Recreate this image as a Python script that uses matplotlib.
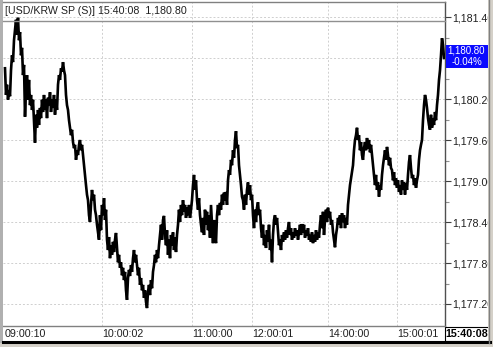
import matplotlib
matplotlib.use("Agg")
import matplotlib.pyplot as plt
from matplotlib.patches import Rectangle

# ---- data ----
title_text = "[USD/KRW SP (S)] 15:40:08  1,180.80"
last_price_label = "1,180.80"
last_change_label = "-0.04%"
last_time_label = "15:40:08"

prices = [
    1180.65, 1180.26, 1180.41, 1180.19, 1180.33, 1180.24, 1180.62, 1180.84, 1180.74, 1181.06,
    1181.21, 1181.36, 1181.14, 1181.39, 1181.06, 1181.18, 1180.84, 1180.95, 1180.55, 1180.70,
    1179.94, 1180.33, 1180.55, 1180.19, 1180.48, 1180.11, 1180.26, 1180.04, 1180.19, 1179.89,
    1179.56, 1179.97, 1179.78, 1180.04, 1179.82, 1180.07, 1179.92, 1180.19, 1180.01, 1180.26,
    1180.04, 1180.19, 1179.92, 1180.22, 1180.11, 1180.30, 1180.01, 1180.19, 1180.07, 1180.26,
    1179.97, 1180.19, 1180.04, 1180.41, 1180.55, 1180.48, 1180.65, 1180.60, 1180.74, 1180.62,
    1180.55, 1180.26, 1180.11, 1180.04, 1179.89, 1179.78, 1179.67, 1179.75, 1179.57, 1179.48,
    1179.53, 1179.31, 1179.45, 1179.38, 1179.53, 1179.60, 1179.45, 1179.53, 1179.38, 1179.23,
    1179.09, 1178.94, 1178.80, 1178.72, 1178.50, 1178.40, 1178.65, 1178.87, 1178.72, 1178.80,
    1178.58, 1178.50, 1178.36, 1178.25, 1178.14, 1178.50, 1178.28, 1178.65, 1178.50, 1178.75,
    1178.43, 1178.58, 1178.14, 1177.99, 1178.18, 1177.87, 1178.06, 1177.92, 1178.11, 1177.96,
    1178.14, 1178.24, 1178.02, 1177.81, 1177.92, 1177.73, 1177.81, 1177.62, 1177.73, 1177.55,
    1177.67, 1177.40, 1177.26, 1177.58, 1177.70, 1177.61, 1177.77, 1177.67, 1177.87, 1177.99,
    1177.81, 1177.92, 1177.77, 1177.62, 1177.73, 1177.48, 1177.58, 1177.40, 1177.48, 1177.29,
    1177.40, 1177.23, 1177.14, 1177.38, 1177.48, 1177.33, 1177.55, 1177.43, 1177.67, 1177.77,
    1177.92, 1177.81, 1177.99, 1177.87, 1178.06, 1178.21, 1178.36, 1178.14, 1178.43, 1178.49,
    1178.21, 1178.06, 1178.28, 1177.92, 1178.14, 1177.87, 1178.21, 1178.06, 1178.25, 1177.99,
    1178.17, 1177.96, 1178.21, 1178.36, 1178.58, 1178.40, 1178.65, 1178.50, 1178.72, 1178.55,
    1178.65, 1178.46, 1178.61, 1178.50, 1178.65, 1178.46, 1178.58, 1178.72, 1178.94, 1179.09,
    1178.87, 1179.01, 1178.72, 1178.58, 1178.75, 1178.50, 1178.36, 1178.25, 1178.46, 1178.21,
    1178.58, 1178.36, 1178.55, 1178.28, 1178.50, 1178.17, 1178.65, 1178.36, 1178.09, 1178.43,
    1178.21, 1178.09, 1178.50, 1178.65, 1178.50, 1178.68, 1178.58, 1178.80, 1178.65, 1178.83,
    1178.72, 1178.84, 1178.65, 1179.01, 1179.16, 1179.09, 1179.31, 1179.23, 1179.45, 1179.34,
    1179.60, 1179.73, 1179.48, 1179.53, 1179.23, 1179.09, 1178.94, 1178.77, 1178.72, 1178.58,
    1178.80, 1178.65, 1178.87, 1178.98, 1178.80, 1178.94, 1178.72, 1178.80, 1178.50, 1178.31,
    1178.58, 1178.40, 1178.61, 1178.69, 1178.50, 1178.58, 1178.31, 1178.17, 1178.36, 1178.06,
    1178.21, 1178.02, 1178.28, 1178.11, 1178.36, 1177.99, 1178.14, 1177.81, 1178.21, 1178.43,
    1178.50, 1178.36, 1178.46, 1178.25, 1178.06, 1178.14, 1177.99, 1178.21, 1178.11, 1178.25,
    1178.14, 1178.28, 1178.17, 1178.31, 1178.40, 1178.21, 1178.31, 1178.14, 1178.25, 1178.17,
    1178.31, 1178.20, 1178.28, 1178.14, 1178.25, 1178.36, 1178.21, 1178.37, 1178.25, 1178.36,
    1178.17, 1178.28, 1178.20, 1178.31, 1178.14, 1178.21, 1178.11, 1178.25, 1178.09, 1178.21,
    1178.11, 1178.28, 1178.14, 1178.25, 1178.17, 1178.36, 1178.50, 1178.31, 1178.55, 1178.21,
    1178.43, 1178.58, 1178.40, 1178.61, 1178.46, 1178.55, 1178.36, 1178.43, 1178.25, 1178.14,
    1178.03, 1178.21, 1178.31, 1178.46, 1178.36, 1178.50, 1178.31, 1178.53, 1178.40, 1178.50,
    1178.31, 1178.46, 1178.36, 1178.65, 1178.80, 1178.94, 1179.04, 1179.13, 1179.23, 1179.45,
    1179.60, 1179.67, 1179.78, 1179.60, 1179.67, 1179.45, 1179.57, 1179.38, 1179.31, 1179.48,
    1179.57, 1179.45, 1179.63, 1179.48, 1179.60, 1179.42, 1179.53, 1179.38, 1179.23, 1179.09,
    1178.94, 1179.09, 1178.87, 1178.98, 1178.77, 1178.94, 1178.87, 1179.09, 1179.23, 1179.34,
    1179.45, 1179.31, 1179.50, 1179.38, 1179.23, 1179.34, 1179.19, 1179.16, 1179.01, 1179.13,
    1178.94, 1179.04, 1178.90, 1179.01, 1178.84, 1178.94, 1178.80, 1179.01, 1178.87, 1178.98,
    1178.80, 1178.97, 1178.87, 1179.09, 1179.28, 1179.38, 1179.19, 1179.04, 1179.09, 1178.94,
    1179.04, 1178.90, 1179.01, 1179.09, 1179.31, 1179.45, 1179.53, 1179.60, 1179.89, 1180.11,
    1180.26, 1180.19, 1180.07, 1179.92, 1179.82, 1179.75, 1179.97, 1179.78, 1179.92, 1179.82,
    1180.01, 1179.89, 1180.11, 1180.26, 1180.48, 1180.62, 1180.84, 1181.09, 1180.99, 1180.80,
]

time_labels = ["09:00:10", "10:00:02", "11:00:00", "12:00:01", "14:00:00", "15:00:01"]
time_label_index = [0, 97, 187, 247, 323, 392]

price_ticks = [1177.20, 1177.80, 1178.40, 1179.00, 1179.60, 1180.20, 1180.80, 1181.40]
# the 1,180.80 tick label is hidden under the last-price box in the reference
price_tick_labels = ["1,177.20", "1,177.80", "1,178.40", "1,179.00",
                     "1,179.60", "1,180.20", "", "1,181.40"]
price_minor_ticks = [1177.50, 1178.10, 1178.70, 1179.30, 1179.90, 1180.50, 1181.10]

# ---- figure ----
W, H = 493, 347
FONT = "Liberation Sans"
FS = 7.7
fig = plt.figure(figsize=(W / 100, H / 100), dpi=100, facecolor="white")


def fx(px):
    return px / W


def fy(py):
    return 1 - py / H


ax_left, ax_right, ax_top, ax_bottom = 3, 445, 2, 326
ax = fig.add_axes([fx(ax_left), fy(ax_bottom), fx(ax_right - ax_left), (ax_bottom - ax_top) / H])
ax.set_facecolor("white")

x = list(range(len(prices)))
ax.plot(x, prices, color="black", lw=1.9, solid_joinstyle="miter", zorder=3)

ax.set_xlim(-2, 440)
ax.set_ylim(1176.878, 1181.62)

# grid
for v in price_ticks:
    ax.axhline(v, color="#cfcfcf", lw=0.7, ls=(0, (2, 2)), zorder=1)
for i in time_label_index[1:]:
    ax.axvline(i, color="#cfcfcf", lw=0.7, ls=(0, (2, 2)), zorder=1)

# y axis on right
ax.yaxis.tick_right()
ax.set_yticks(price_ticks)
ax.set_yticklabels(price_tick_labels, fontsize=FS, family=FONT, color="#202020")
ax.set_yticks(price_minor_ticks, minor=True)
ax.tick_params(axis="y", which="major", direction="out", length=4, width=0.8, pad=1, colors="#404040",
               labelcolor="#202020")
ax.tick_params(axis="y", which="minor", direction="out", length=3, width=0.8, colors="#909090")

# x labels
ax.set_xticks(time_label_index)
ax.set_xticklabels(time_labels, fontsize=FS, family=FONT, color="#202020", ha="left")
ax.tick_params(axis="x", length=0, pad=2.5)

for s in ["left", "top"]:
    ax.spines[s].set_visible(False)
ax.spines["right"].set_color("#505050")
ax.spines["right"].set_linewidth(1.0)
ax.spines["bottom"].set_color("#808080")
ax.spines["bottom"].set_linewidth(1.0)

# overlay decorations
ov = fig.add_axes([0, 0, 1, 1], zorder=10)
ov.set_xlim(0, W)
ov.set_ylim(H, 0)
ov.axis("off")
ov.patch.set_alpha(0)

# top border + title separator
ov.plot([3, 445], [2, 2], color="#808080", lw=1.0)
ov.plot([3, 445], [20.5, 20.5], color="#909090", lw=1.0)
ov.text(5, 10.5, title_text, fontsize=FS, family=FONT, color="#202020", va="center", ha="left")

# left gray border
ov.add_patch(Rectangle((0, 0), 3, H, color="#b0b0b0", lw=0))

# blue price box
ov.add_patch(Rectangle((445.5, 44.5), 45, 23, color="#0a0aff", lw=0))
ov.text(447, 50.5, last_price_label, fontsize=7.0, family=FONT, color="white", va="center", ha="left")
ov.text(467, 61.8, last_change_label, fontsize=7.0, family=FONT, color="white", va="center", ha="center")

# bottom: label row frame and thick line
ov.plot([3, 490], [341.5, 341.5], color="black", lw=2.2)
ov.add_patch(Rectangle((0, 343), W, H - 343, color="#d4d0c8", lw=0))
ov.add_patch(Rectangle((445, 327), 44, 14, fill=False, ec="black", lw=0.8))
ov.text(467, 334, last_time_label, fontsize=FS, family=FONT, color="black", weight="bold",
        va="center", ha="center")

# right scrollbar strip
ov.add_patch(Rectangle((488, 0), W - 488, H, color="#d4d0c8", lw=0))
ov.plot([488.5, 488.5], [0, 343], color="#808080", lw=1.0)

fig.savefig("out.png", dpi=100, facecolor="white")
